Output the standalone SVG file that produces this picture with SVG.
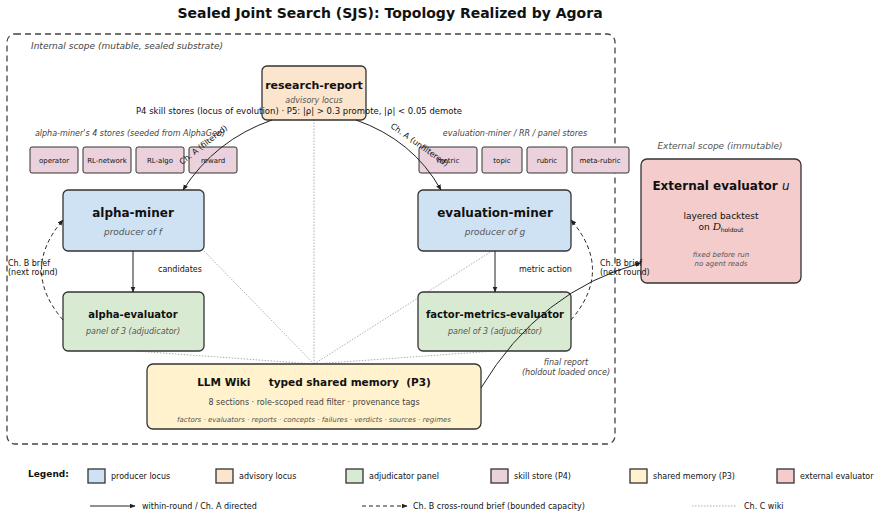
<svg xmlns="http://www.w3.org/2000/svg" width="879" height="517" viewBox="0 0 879 517">
<style>
text{font-family:"DejaVu Sans",sans-serif;fill:#111}
.n{stroke:#333;stroke-width:1.3}
.t{font-weight:bold;font-size:11px;text-anchor:middle}
.s{font-style:italic;font-size:9px;fill:#555;text-anchor:middle}
.st{fill:#ead1dc;stroke:#333;stroke-width:1}
.sl{font-size:7px;text-anchor:middle}
.e{stroke:#222;stroke-width:1;fill:none}
.d{stroke:#999;stroke-width:0.8;stroke-dasharray:1.5,1.5;fill:none}
.b{stroke:#222;stroke-width:1;stroke-dasharray:4,3;fill:none}
.lab{font-size:8px}
.ital{font-style:italic;font-size:8px;fill:#444}
.lg{font-size:8px}
</style>
<defs><marker id="a" viewBox="0 0 10 10" refX="9" refY="5" markerWidth="6" markerHeight="6" orient="auto"><path d="M0,1L10,5L0,9z" fill="#222"/></marker></defs>
<rect width="879" height="517" fill="#fff"/>
<text x="390" y="18" style="font-size:14px;font-weight:bold;text-anchor:middle">Sealed Joint Search (SJS): Topology Realized by Agora</text>
<rect x="7" y="34" width="608" height="410" rx="8" fill="none" stroke="#444" stroke-width="1.3" stroke-dasharray="6,4"/>
<text x="31" y="49" class="ital" style="font-size:9px">Internal scope (mutable, sealed substrate)</text>
<text x="720" y="149" class="s" style="font-size:9px">External scope (immutable)</text>
<path class="d" d="M314,364L314,120M314,364L204,251M314,364L135,351M314,364L492,251M314,364L495,351"/>
<g id="research-report"><rect x="262" y="66" width="104" height="54" rx="5" fill="#fce5cd" class="n"/>
<text x="314" y="89" class="t">research-report</text><text x="314" y="103" class="s" style="font-size:8px">advisory locus</text></g>
<text x="299" y="114" style="font-size:8.5px;text-anchor:middle">P4 skill stores (locus of evolution)  ·  P5: |ρ| &gt; 0.3 promote, |ρ| &lt; 0.05 demote</text>
<text x="130" y="136" class="ital" style="text-anchor:middle">alpha-miner's 4 stores (seeded from AlphaGen)</text>
<text x="515" y="136" class="ital" style="text-anchor:middle">evaluation-miner / RR / panel stores</text>
<g id="stores">
<rect x="30" y="147" width="48" height="26" rx="2" class="st"/><text x="54" y="163" class="sl">operator</text>
<rect x="83" y="147" width="48" height="26" rx="2" class="st"/><text x="107" y="163" class="sl">RL-network</text>
<rect x="136" y="147" width="48" height="26" rx="2" class="st"/><text x="160" y="163" class="sl">RL-algo</text>
<rect x="189" y="147" width="48" height="26" rx="2" class="st"/><text x="213" y="163" class="sl">reward</text>
<rect x="419" y="147" width="58" height="26" rx="2" class="st"/><text x="448" y="163" class="sl">metric</text>
<rect x="482" y="147" width="40" height="26" rx="2" class="st"/><text x="502" y="163" class="sl">topic</text>
<rect x="527" y="147" width="40" height="26" rx="2" class="st"/><text x="547" y="163" class="sl">rubric</text>
<rect x="572" y="147" width="57" height="26" rx="2" class="st"/><text x="600" y="163" class="sl">meta-rubric</text>
</g>
<g id="alpha-miner"><rect x="63" y="190" width="141" height="61" rx="5" fill="#cfe2f3" class="n"/>
<text x="133" y="217" class="t" style="font-size:12px">alpha-miner</text><text x="133" y="235" class="s">producer of f</text></g>
<g id="evaluation-miner"><rect x="418" y="190" width="153" height="61" rx="5" fill="#cfe2f3" class="n"/>
<text x="495" y="217" class="t" style="font-size:12px">evaluation-miner</text><text x="495" y="235" class="s">producer of g</text></g>
<g id="alpha-evaluator"><rect x="63" y="292" width="141" height="59" rx="5" fill="#d9ead3" class="n"/>
<text x="133" y="318" class="t" style="font-size:10px">alpha-evaluator</text><text x="133" y="334" class="s" style="font-size:8px">panel of 3 (adjudicator)</text></g>
<g id="factor-metrics-evaluator"><rect x="418" y="292" width="153" height="59" rx="5" fill="#d9ead3" class="n"/>
<text x="495" y="318" class="t" style="font-size:10px">factor-metrics-evaluator</text><text x="495" y="334" class="s" style="font-size:8px">panel of 3 (adjudicator)</text></g>
<g id="llm-wiki"><rect x="147" y="364" width="334" height="65" rx="6" fill="#fff2cc" class="n"/>
<text x="314" y="386" class="t" style="font-size:10.5px" xml:space="preserve">LLM Wiki     typed shared memory  (P3)</text>
<text x="314" y="405" style="font-size:8px;text-anchor:middle;fill:#444">8 sections · role-scoped read filter · provenance tags</text>
<text x="314" y="422" class="s" style="font-size:7px">factors · evaluators · reports · concepts · failures · verdicts · sources · regimes</text></g>
<g id="external-evaluator"><rect x="641" y="159" width="160" height="124" rx="6" fill="#f4cccc" class="n"/>
<text x="721" y="190" class="t" style="font-size:12px">External evaluator <tspan font-style="italic" font-weight="normal">u</tspan></text>
<text x="721" y="219" style="font-size:9px;text-anchor:middle">layered backtest</text>
<text x="721" y="230" style="font-size:9px;text-anchor:middle">on <tspan font-style="italic" font-family="Liberation Serif,serif" font-size="11px">D</tspan><tspan font-size="6px" dy="2">holdout</tspan></text>
<text x="721" y="257" class="s" style="font-size:7px">fixed before run</text><text x="721" y="266" class="s" style="font-size:7px">no agent reads</text></g>
<g id="connectors">
<path class="e" d="M272,120Q215,140 183,190" marker-end="url(#a)"/>
<path class="e" d="M356,120Q413,140 441,190" marker-end="url(#a)"/>
<path class="e" d="M133,251L133,292" marker-end="url(#a)"/>
<path class="e" d="M495,251L495,292" marker-end="url(#a)"/>
<path class="b" d="M63,320Q20,270 63,220" marker-end="url(#a)"/>
<path class="b" d="M571,320Q614,270 571,220" marker-end="url(#a)"/>
<path class="e" d="M481,388Q540,290 641,263" marker-end="url(#a)"/>
<text x="158" y="272" class="lab">candidates</text>
<text x="519" y="272" class="lab">metric action</text>
<text x="8" y="266" class="lab">Ch. B brief</text><text x="8" y="275" class="lab">(next round)</text>
<text x="600" y="266" class="lab">Ch. B brief</text><text x="600" y="275" class="lab">(next round)</text>
<text x="566" y="365" class="ital" style="text-anchor:middle">final report</text>
<text x="566" y="375" class="ital" style="text-anchor:middle">(holdout loaded once)</text>
<text transform="translate(205,147) rotate(-38)" class="lab" style="text-anchor:middle">Ch. A (filtered)</text>
<text transform="translate(418,147) rotate(35)" class="lab" style="text-anchor:middle">Ch. A (unfiltered)</text>
</g>
<g id="legend">
<text x="28" y="477" style="font-size:9px;font-weight:bold">Legend:</text>
<rect x="88" y="469" width="17" height="14" fill="#cfe2f3" class="n"/><text x="111" y="479" class="lg">producer locus</text>
<rect x="216" y="469" width="17" height="14" fill="#fce5cd" class="n"/><text x="239" y="479" class="lg">advisory locus</text>
<rect x="346" y="469" width="17" height="14" fill="#d9ead3" class="n"/><text x="369" y="479" class="lg">adjudicator panel</text>
<rect x="491" y="469" width="17" height="14" fill="#ead1dc" class="n"/><text x="514" y="479" class="lg">skill store (P4)</text>
<rect x="630" y="469" width="17" height="14" fill="#fff2cc" class="n"/><text x="653" y="479" class="lg">shared memory (P3)</text>
<rect x="777" y="469" width="17" height="14" fill="#f4cccc" class="n"/><text x="800" y="479" class="lg">external evaluator</text>
<path class="e" d="M90,506L135,506" marker-end="url(#a)"/><text x="142" y="509" class="lg">within-round / Ch. A directed</text>
<path class="b" d="M362,506L407,506" marker-end="url(#a)"/><text x="413" y="509" class="lg">Ch. B cross-round brief (bounded capacity)</text>
<path class="d" d="M692,506L737,506"/><text x="744" y="509" class="lg">Ch. C wiki</text>
</g>
</svg>
